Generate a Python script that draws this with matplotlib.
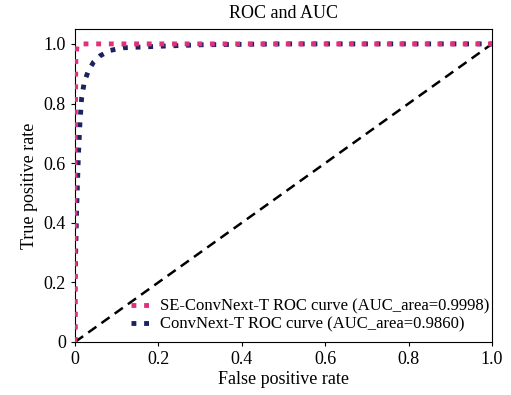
import matplotlib.pyplot as plt

# ROC curve points
fpr_se = [0.0, 0.0, 0.002, 0.005, 0.02, 0.1, 0.3, 0.6, 1.0]
tpr_se = [0.0, 0.6, 0.95, 0.995, 1.0, 1.0, 1.0, 1.0, 1.0]
fpr_cn = [0.0, 0.0, 0.004, 0.008, 0.012, 0.016, 0.022, 0.032, 0.045, 0.06, 0.084, 0.115, 0.2, 0.3, 0.5, 1.0]
tpr_cn = [0.0, 0.2, 0.45, 0.62, 0.74, 0.82, 0.87, 0.91, 0.94, 0.96, 0.978, 0.987, 0.992, 0.997, 1.0, 1.0]
labels = ["SE-ConvNext-T ROC curve (AUC_area=0.9998)",
          "ConvNext-T ROC curve (AUC_area=0.9860)"]
xticks = [0, 0.2, 0.4, 0.6, 0.8, 1.0]
xtick_labels = ["0", "0.2", "0.4", "0.6", "0.8", "1.0"]

plt.rcParams['font.family'] = ['Liberation Serif', 'DejaVu Serif']

fig = plt.figure(figsize=(5.11, 3.95), dpi=100)
ax = fig.add_axes([75 / 511, 53 / 395, 417 / 511, 313 / 395])

# dotted lines drawn as small squares
ax.plot(fpr_se, tpr_se, color="#e0307a", linewidth=3.5,
        linestyle=(0, (1, 1.6)), dash_capstyle="butt", label=labels[0], zorder=3)
ax.plot(fpr_cn, tpr_cn, color="#1c2260", linewidth=3.5,
        linestyle=(0, (1, 1.6)), dash_capstyle="butt", label=labels[1], zorder=2)
# diagonal reference line
ax.plot([0, 1], [0, 1], color="black", linewidth=1.8, linestyle=(0, (4, 2.5)))

ax.set_xlim(0, 1.0)
ax.set_ylim(0, 1.05)
ax.set_xticks(xticks)
ax.set_xticklabels(xtick_labels)
ax.set_yticks(xticks)
ax.set_yticklabels(xtick_labels)
ax.tick_params(labelsize=13, length=3, width=0.8)

ax.set_title("ROC and AUC", fontsize=13, pad=8)
ax.set_xlabel("False positive rate", fontsize=13, labelpad=2)
ax.set_ylabel("True positive rate", fontsize=13, labelpad=4)

ax.legend(loc="lower right", bbox_to_anchor=(1.015, 0.0), frameon=False, fontsize=12,
          handlelength=1.2, handletextpad=0.5, borderaxespad=0.15, labelspacing=0.15)

fig.savefig("out.png", dpi=100)
